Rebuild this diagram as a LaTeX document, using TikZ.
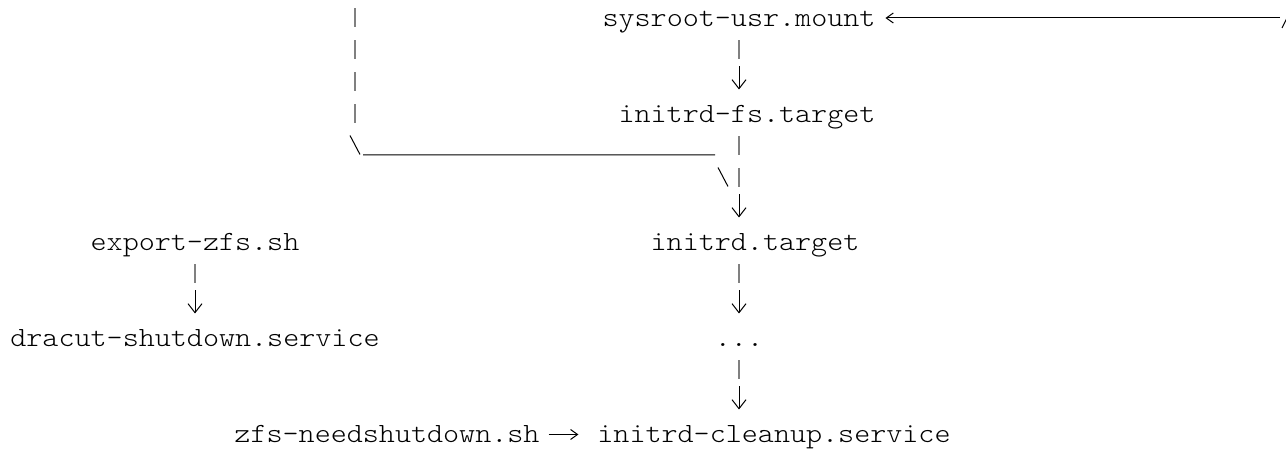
\documentclass[tikz,border=0pt]{standalone}
\usepackage{fontspec}
\usepackage{xcolor}
\usetikzlibrary{arrows.meta}
\newfontfamily\unitfont{lmmonolt10-regular.otf}[FakeStretch=1.1]

\begin{document}
\begin{tikzpicture}[x=1pt,y=1pt,
  unit/.style={anchor=base,inner sep=0pt,outer sep=0pt,text height=18pt,text depth=2pt,
    text=drawColor,font=\unitfont\fontsize{27.8}{32}\selectfont},
  pipe/.style={draw=pipeColor,line width=1.6pt},
  glyph/.style={draw=drawColor,line width=1pt},
  down/.style={glyph,-{Straight Barb[length=9pt,width=14pt]}},
  side/.style={glyph,-{Straight Barb[length=7pt,width=10pt]}}]
\definecolor{fillColor}{RGB}{255,255,255}
\definecolor{drawColor}{RGB}{0,0,0}
\definecolor{pipeColor}{gray}{0.5}
\path[use as bounding box,fill=fillColor] (0,0) rectangle (1286,449);
\clip (0,0) rectangle (1286,449);

% units, one text row every 32pt
\node[unit] (usr) at (739,422.5) {sysroot-usr.mount};
\node[unit] (fs) at (747,326.5) {initrd-fs.target};
\node[unit] (export) at (195,198.5) {export-zfs.sh};
\node[unit] (initrd) at (755,198.5) {initrd.target};
\node[unit] (dracut) at (195,102.5) {dracut-shutdown.service};
\node[unit] (dots) at (739,102.5) {...};
\node[unit] (needs) at (387,6.5) {zfs-needshutdown.sh};
\node[unit] (cleanup) at (774,6.5) {initrd-cleanup.service};

\coordinate (trunk) at (739,0);
\coordinate (above) at (355,440.5);
\coordinate (edge) at (1280,431);

% sysroot-usr.mount -> initrd-fs.target
\draw[pipe] (trunk |- usr.south) ++(0,-12) -- ++(0,-19);
\draw[down] (trunk |- fs.north) ++(0,38) -- ++(0,-23);

% initrd-fs.target -> initrd.target
\draw[pipe,dash pattern=on 19pt off 13pt] (trunk |- fs.south) ++(0,-12) -- ++(0,-51);
\draw[down] (trunk |- initrd.north) ++(0,38) -- ++(0,-23);

% branch coming down from above
\draw[pipe,dash pattern=on 19pt off 13pt] (above) -- ++(0,-115);
\draw[glyph] (350,313.5) -- (360,294.5)
  (363,294) -- (715,294)
  (718,281.5) -- (728,262.5);

% initrd.target -> ... -> initrd-cleanup.service
\draw[pipe] (trunk |- initrd.south) ++(0,-12) -- ++(0,-19);
\draw[down] (trunk |- dots.north) ++(0,38) -- ++(0,-23);
\draw[pipe] (dots.south) ++(0,-12) -- ++(0,-19);
\draw[down] (trunk |- cleanup.north) ++(0,38) -- ++(0,-23);

% export-zfs.sh -> dracut-shutdown.service
\draw[pipe] (export.south) ++(0,-12) -- ++(0,-19);
\draw[down] (dracut.north) ++(0,38) -- ++(0,-23);

% zfs-needshutdown.sh -> initrd-cleanup.service
\draw[side] ([xshift=9pt]needs.east) -- ([xshift=-19pt]cleanup.west);

% long arrow from the right edge
\draw[side] (edge) -- ([xshift=10pt]usr.east |- edge);
\draw[glyph] (1282,421) -- (1294,445);
\end{tikzpicture}
\end{document}
